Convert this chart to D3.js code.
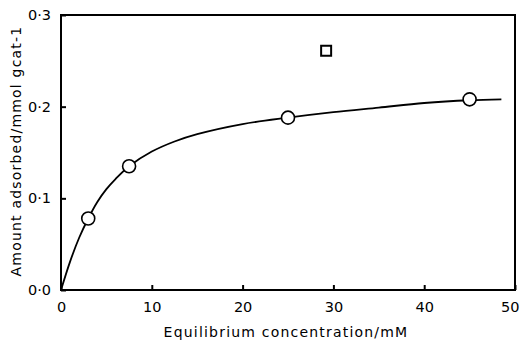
<!DOCTYPE html>
<html><head><meta charset="utf-8">
<script src="https://cdn.jsdelivr.net/npm/d3@7"></script>
<style>body{margin:0;background:#fff}svg{display:block}text{font-family:"DejaVu Sans",sans-serif;fill:#000}</style>
</head><body><svg id="c" width="520" height="348"></svg>
<script>
// data
const circleX = [3, 7.5, 25, 45];
const circleY = [0.078, 0.135, 0.188, 0.208];
const squareX = [29.2];
const squareY = [0.261];
const curveX = [0, 1, 2, 3, 4, 5, 6, 7.5, 10, 12.5, 15, 20, 25, 30, 35, 40, 45, 48.5];
const curveY = [0, 0.031, 0.057, 0.078, 0.096, 0.110, 0.121, 0.135, 0.151, 0.162, 0.170, 0.181, 0.188, 0.194, 0.199, 0.204, 0.207, 0.208];
const xTicks = [0, 10, 20, 30, 40, 50];
const yTicks = [0, 0.1, 0.2, 0.3];
const yTickLabels = ["0·0", "0·1", "0·2", "0·3"];
const xTitle = "Equilibrium concentration/mM";
const yTitle = "Amount adsorbed/mmol gcat-1";

const svg = d3.select("#c");
const L = 61, R = 515, T = 15, B = 290;
const x = d3.scaleLinear().domain([0, 50]).range([L, R]);
const y = d3.scaleLinear().domain([0, 0.3]).range([B, T]);

// frame
svg.append("rect").attr("x", L).attr("y", T).attr("width", R - L).attr("height", B - T)
  .attr("fill", "none").attr("stroke", "#000").attr("stroke-width", 2);

// axes with inward ticks
const xa = svg.append("g").attr("transform", `translate(0,${B})`)
  .call(d3.axisBottom(x).tickValues(xTicks).tickSizeInner(-5).tickSizeOuter(0).tickPadding(12).tickFormat(d3.format("d")));
const ya = svg.append("g").attr("transform", `translate(${L},0)`)
  .call(d3.axisLeft(y).tickValues(yTicks).tickSizeInner(-5).tickSizeOuter(0).tickPadding(10).tickFormat((d, i) => yTickLabels[i]));
[xa, ya].forEach(g => {
  g.select(".domain").remove();
  g.selectAll(".tick line").attr("stroke", "#000").attr("stroke-width", 2);
  g.selectAll("text").style("font-size", "14.5px").style("font-family", "DejaVu Sans, sans-serif");
});
// last x label sits against the right edge as in the reference
xa.selectAll(".tick text").filter(d => d === 50).attr("text-anchor", "end").attr("dx", "4");

// curve
const line = d3.line().x(d => x(d[0])).y(d => y(d[1])).curve(d3.curveCatmullRom.alpha(0.5));
svg.append("path").datum(curveX.map((v, i) => [v, curveY[i]]))
  .attr("d", line).attr("fill", "none").attr("stroke", "#000").attr("stroke-width", 1.8);

// circles
svg.selectAll("circle.pt").data(circleX.map((v, i) => [v, circleY[i]])).enter().append("circle")
  .attr("cx", d => x(d[0])).attr("cy", d => y(d[1])).attr("r", 6.5)
  .attr("fill", "#fff").attr("stroke", "#000").attr("stroke-width", 1.6);

// square
svg.selectAll("rect.sq").data(squareX.map((v, i) => [v, squareY[i]])).enter().append("rect")
  .attr("x", d => x(d[0]) - 5).attr("y", d => y(d[1]) - 5).attr("width", 10).attr("height", 10)
  .attr("fill", "#fff").attr("stroke", "#000").attr("stroke-width", 2);

// titles
svg.append("text").attr("x", 286).attr("y", 337).attr("text-anchor", "middle")
  .style("font-size", "14px").style("letter-spacing", "1.2px").text(xTitle);
svg.append("text").attr("transform", `translate(21,151) rotate(-90)`).attr("text-anchor", "middle")
  .style("font-size", "14px").style("letter-spacing", "1.2px").text(yTitle);
</script></body></html>
